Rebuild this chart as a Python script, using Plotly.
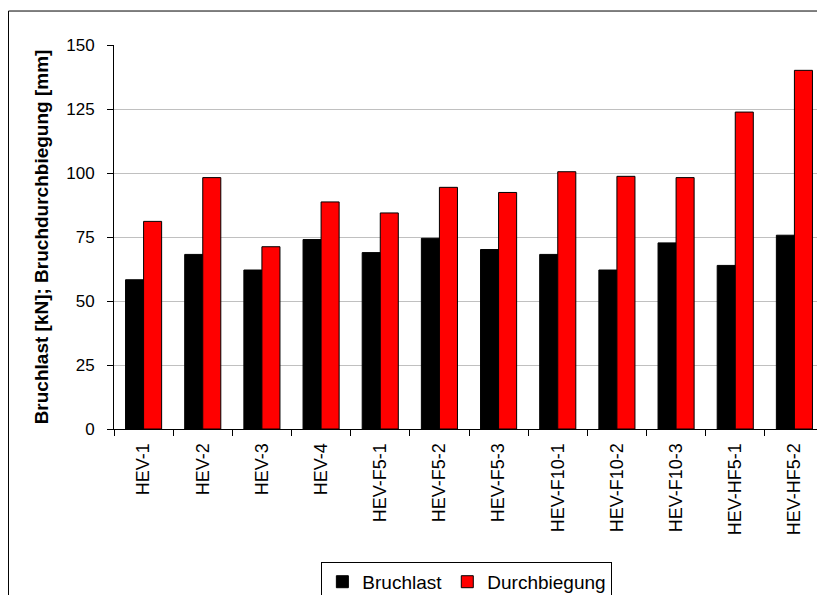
import plotly.graph_objects as go

categories = ["HEV-1", "HEV-2", "HEV-3", "HEV-4", "HEV-F5-1", "HEV-F5-2", "HEV-F5-3",
              "HEV-F10-1", "HEV-F10-2", "HEV-F10-3", "HEV-HF5-1", "HEV-HF5-2"]
bruchlast = [58.3, 68.2, 62.1, 74.0, 68.9, 74.5, 70.1, 68.2, 62.1, 72.7, 63.9, 75.7]
durchbiegung = [81.1, 98.2, 71.2, 88.7, 84.4, 94.4, 92.4, 100.5, 98.7, 98.2, 123.8, 140.1]
y_ticks = [0, 25, 50, 75, 100, 125, 150]

FONT = "Liberation Sans, Arial, sans-serif"

fig = go.Figure()
fig.add_trace(go.Bar(x=categories, y=bruchlast, name="Bruchlast",
                     marker=dict(color="#000000", line=dict(color="#000000", width=1))))
fig.add_trace(go.Bar(x=categories, y=durchbiegung, name="Durchbiegung",
                     marker=dict(color="#ff0000", line=dict(color="#000000", width=1))))

fig.update_layout(
    width=817, height=587,
    margin=dict(l=106, r=1, t=37, b=166, autoexpand=False),
    paper_bgcolor="white", plot_bgcolor="white",
    barmode="group", bargap=0.39, bargroupgap=0,
    font=dict(family=FONT, size=18, color="#000000"),
    showlegend=True,
    legend=dict(orientation="h", x=0.497, xanchor="center", y=-0.346, yanchor="top",
                bordercolor="#000000", borderwidth=1, font=dict(size=19),
                itemwidth=30, bgcolor="white"),
    xaxis=dict(type="category", showline=True, linecolor="#000000", linewidth=1,
               ticks="outside", ticklen=6, tickcolor="#000000", tickson="boundaries",
               tickangle=-90, showgrid=False, ticklabelstandoff=6,
               tickfont=dict(size=18)),
    yaxis=dict(range=[0, 150], tickvals=y_ticks, showline=True, linecolor="#000000",
               linewidth=1, ticks="outside", ticklen=6, tickcolor="#000000",
               showgrid=True, gridcolor="#c0c0c0", gridwidth=1, zeroline=False,
               ticklabelstandoff=9, tickfont=dict(size=17),
               title=dict(text="Bruchlast [kN]; Bruchdurchbiegung [mm]",
                          font=dict(size=19, weight="bold"), standoff=12)),
    shapes=[dict(type="rect", xref="paper", yref="paper",
                 x0=-0.1486, x1=1.01, y0=-0.6, y1=1.0885,
                 line=dict(color="#000000", width=1), fillcolor="rgba(0,0,0,0)",
                 layer="below")],
)

fig.write_html("out.html")
